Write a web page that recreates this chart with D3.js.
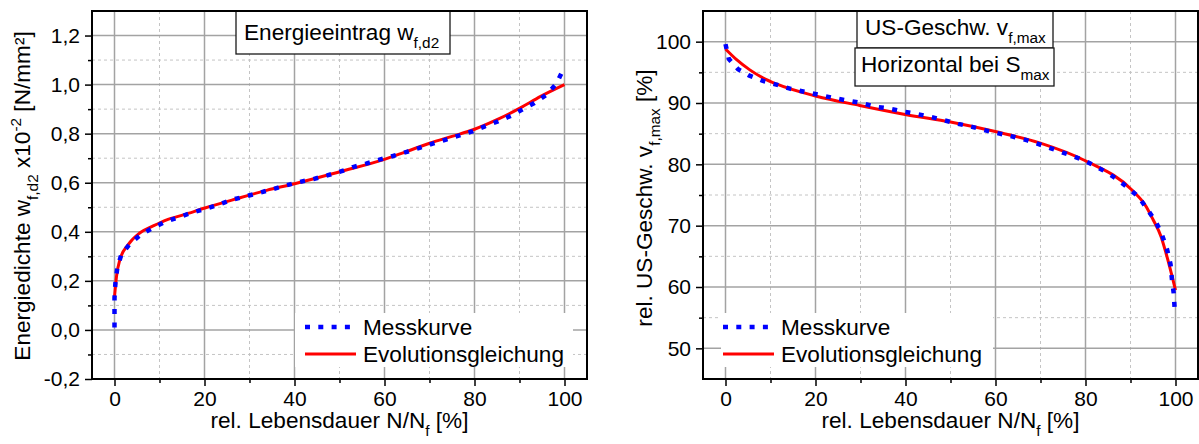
<!DOCTYPE html>
<html><head><meta charset="utf-8">
<script src="https://cdn.jsdelivr.net/npm/d3@7"></script>
<style>
body{margin:0;background:#fff}
svg{display:block}
text{font-family:"Liberation Sans",Arial,sans-serif;fill:#000}
</style>
</head><body>
<svg id="c" width="1199" height="444"></svg>
<script>
// ---------- data ----------
const xMajor = [0, 20, 40, 60, 80, 100];
const xMinor = [10, 30, 50, 70, 90];

const leftYMajor = [-0.2, 0.0, 0.2, 0.4, 0.6, 0.8, 1.0, 1.2];
const leftYMinor = [-0.1, 0.1, 0.3, 0.5, 0.7, 0.9, 1.1];
const rightYMajor = [50, 60, 70, 80, 90, 100];
const rightYMinor = [55, 65, 75, 85, 95];

const legendLabels = ["Messkurve", "Evolutionsgleichung"];

const leftMessX = [0, 0, 0, 0.2, 0.6, 1.5, 3.4, 5.6, 8.4, 11.2, 14.3, 17.4, 20.3, 23.1, 26.2, 29.0, 32.0, 35.2, 38.1, 41.1, 44.2, 47.3, 50.3, 53.0, 55.9, 58.9, 61.9, 64.8, 67.8, 70.7, 73.7, 76.7, 79.5, 82.3, 85.2, 88.1, 90.6, 93.3, 96.0, 98.2, 99.7];
const leftMessY = [0.01, 0.07, 0.13, 0.19, 0.25, 0.306, 0.351, 0.385, 0.415, 0.44, 0.46, 0.479, 0.494, 0.51, 0.531, 0.544, 0.558, 0.574, 0.589, 0.603, 0.615, 0.63, 0.646, 0.664, 0.678, 0.694, 0.709, 0.725, 0.742, 0.759, 0.776, 0.793, 0.809, 0.83, 0.85, 0.873, 0.898, 0.925, 0.959, 1.004, 1.061];

const leftEvoX = [0, 0.44, 1.2, 3.0, 5.6, 8.6, 11.6, 15.3, 20.1, 26.4, 33.8, 39.8, 50.1, 59.8, 65.0, 70.2, 75.0, 80.0, 85.0, 90.2, 94.7, 100];
const leftEvoY = [0.135, 0.218, 0.286, 0.347, 0.395, 0.424, 0.449, 0.469, 0.497, 0.531, 0.569, 0.595, 0.645, 0.694, 0.728, 0.762, 0.789, 0.818, 0.857, 0.905, 0.952, 1.0];

const rightMessX = [0, 0.73, 2.8, 5.2, 8.3, 11.3, 14.5, 17.7, 21.0, 24.1, 27.1, 30.2, 33.2, 36.3, 39.5, 42.6, 45.8, 48.5, 51.7, 54.8, 58.0, 60.9, 64.0, 67.1, 70.4, 73.5, 76.6, 79.6, 82.2, 84.7, 87.0, 89.4, 91.8, 93.6, 95.6, 97.0, 98.1, 98.9, 99.2, 99.6, 99.8];
const rightMessY = [99.6, 97.2, 95.5, 94.5, 93.6, 93.0, 92.3, 91.8, 91.3, 90.8, 90.4, 90.0, 89.4, 89.1, 88.6, 88.2, 87.7, 87.2, 86.6, 86.1, 85.5, 85.0, 84.5, 83.9, 83.1, 82.3, 81.5, 80.7, 79.7, 78.7, 77.6, 76.2, 74.7, 72.8, 70.7, 68.5, 66.2, 63.7, 61.3, 59.0, 56.6];

const rightEvoX = [0, 2.4, 5.4, 8.3, 11.3, 20.2, 29.8, 40.2, 50.0, 60.2, 69.8, 80.2, 90.2, 93.5, 95.0, 96.8, 97.9, 100];
const rightEvoY = [98.8, 97.1, 95.4, 94.1, 93.1, 91.1, 89.6, 88.1, 86.9, 85.3, 83.5, 80.5, 75.9, 73.1, 71.0, 68.2, 65.5, 59.5];

// ---------- drawing ----------
const svg = d3.select('#c');
const FONT = 22.6, TICKFONT = 21;

function rich(sel, parts, size) {
  let cur = 0;
  parts.forEach(p => {
    const target = p.sub ? size * 0.36 : (p.sup ? -size * 0.42 : 0);
    sel.append('tspan')
      .attr('dy', (target - cur).toFixed(2))
      .attr('font-size', (p.sub || p.sup) ? size * 0.68 : size)
      .text(p.t);
    cur = target;
  });
}

function panel(o) {
  const x = d3.scaleLinear().domain([-5, 105]).range([o.left, o.right]);
  const y = d3.scaleLinear().domain(o.yDomain).range([o.bottom, o.top]);
  const g = svg.append('g');

  // grid minor
  const grid = g.append('g');
  grid.selectAll('line.vx').data(xMinor).join('line')
    .attr('x1', d => x(d)).attr('x2', d => x(d)).attr('y1', o.top).attr('y2', o.bottom)
    .attr('stroke', '#c4c4c4').attr('stroke-width', 1).attr('stroke-dasharray', '3,3');
  grid.selectAll('line.hy').data(o.yMinor).join('line')
    .attr('y1', d => y(d)).attr('y2', d => y(d)).attr('x1', o.left).attr('x2', o.right)
    .attr('stroke', '#c4c4c4').attr('stroke-width', 1).attr('stroke-dasharray', '3,3');
  // grid major
  g.append('g').selectAll('line').data(xMajor).join('line')
    .attr('x1', d => x(d)).attr('x2', d => x(d)).attr('y1', o.top).attr('y2', o.bottom)
    .attr('stroke', '#a3a3a3').attr('stroke-width', 1.5);
  g.append('g').selectAll('line').data(o.yMajor).join('line')
    .attr('y1', d => y(d)).attr('y2', d => y(d)).attr('x1', o.left).attr('x2', o.right)
    .attr('stroke', '#a3a3a3').attr('stroke-width', 1.5);

  // curves
  const mess = o.messX.map((v, i) => [v, o.messY[i]]);
  const evo = o.evoX.map((v, i) => [v, o.evoY[i]]);
  g.append('path').datum(evo)
    .attr('d', d3.line().x(d => x(d[0])).y(d => y(d[1])).curve(d3.curveMonotoneX))
    .attr('fill', 'none').attr('stroke', '#ff0000').attr('stroke-width', 3);
  g.append('path').datum(mess)
    .attr('d', d3.line().x(d => x(d[0])).y(d => y(d[1])))
    .attr('fill', 'none').attr('stroke', '#0000ff').attr('stroke-width', 4.5)
    .attr('stroke-dasharray', '5,8.5');

  // legend
  const lg = g.append('g');
  lg.append('rect').attr('x', o.leg.x).attr('y', o.leg.y).attr('width', o.leg.w).attr('height', o.leg.h)
    .attr('fill', '#fff');
  const ly1 = o.leg.y + 14, ly2 = o.leg.y + 41;
  lg.append('line').attr('x1', o.leg.x + o.leg.sx0).attr('x2', o.leg.x + o.leg.sx0 + 51)
    .attr('y1', ly1).attr('y2', ly1).attr('stroke', '#0000ff').attr('stroke-width', 4.5)
    .attr('stroke-dasharray', '5,8.3');
  lg.append('line').attr('x1', o.leg.x + o.leg.sx0).attr('x2', o.leg.x + o.leg.sx0 + 51)
    .attr('y1', ly2).attr('y2', ly2).attr('stroke', '#ff0000').attr('stroke-width', 3);
  lg.append('text').attr('x', o.leg.x + o.leg.sx0 + 58).attr('y', ly1 + 7.5)
    .attr('font-size', FONT).text(legendLabels[0]);
  lg.append('text').attr('x', o.leg.x + o.leg.sx0 + 58).attr('y', ly2 + 7.5)
    .attr('font-size', FONT).text(legendLabels[1]);

  // title boxes
  o.boxes.forEach(b => {
    g.append('rect').attr('x', b.x).attr('y', b.y).attr('width', b.w).attr('height', b.h)
      .attr('fill', '#fff').attr('stroke', '#1a1a1a').attr('stroke-width', 1.3);
    const t = g.append('text').attr('x', b.tx).attr('y', b.ty);
    rich(t, b.parts, FONT);
  });

  // axes
  const fmt = o.fmt;
  const ax = g.append('g').attr('transform', `translate(${o.left},0)`)
    .call(d3.axisLeft(y).tickValues(o.yMajor).tickSize(7).tickPadding(5).tickFormat(fmt));
  ax.select('.domain').remove();
  ax.selectAll('text').attr('font-size', TICKFONT).attr('font-family', '"Liberation Sans",Arial,sans-serif');
  ax.selectAll('line').attr('stroke', '#000').attr('stroke-width', 1.5);
  const axm = g.append('g').attr('transform', `translate(${o.left},0)`)
    .call(d3.axisLeft(y).tickValues(o.yMinor).tickSize(4).tickFormat(''));
  axm.select('.domain').remove();
  axm.selectAll('line').attr('stroke', '#000').attr('stroke-width', 1.5);

  const bx = g.append('g').attr('transform', `translate(0,${o.bottom})`)
    .call(d3.axisBottom(x).tickValues(xMajor).tickSize(7).tickPadding(5).tickFormat(d3.format('d')));
  bx.select('.domain').remove();
  bx.selectAll('text').attr('font-size', TICKFONT).attr('font-family', '"Liberation Sans",Arial,sans-serif');
  bx.selectAll('line').attr('stroke', '#000').attr('stroke-width', 1.5);
  const bxm = g.append('g').attr('transform', `translate(0,${o.bottom})`)
    .call(d3.axisBottom(x).tickValues(xMinor).tickSize(4).tickFormat(''));
  bxm.select('.domain').remove();
  bxm.selectAll('line').attr('stroke', '#000').attr('stroke-width', 1.5);

  // frame
  g.append('rect').attr('x', o.left).attr('y', o.top).attr('width', o.right - o.left).attr('height', o.bottom - o.top)
    .attr('fill', 'none').attr('stroke', '#000').attr('stroke-width', 2);

  // axis titles
  const xt = g.append('text').attr('x', (o.left + o.right) / 2).attr('y', 428).attr('text-anchor', 'middle');
  rich(xt, [{t: 'rel. Lebensdauer N/N'}, {t: 'f', sub: true}, {t: ' [%]'}], FONT);
  const yt = g.append('text').attr('text-anchor', 'middle')
    .attr('transform', `translate(${o.ytx},${o.yty}) rotate(-90)`);
  rich(yt, o.yTitle, FONT);
}

panel({
  left: 92, right: 587, top: 11, bottom: 379,
  yDomain: [-0.2, 1.3], yMajor: leftYMajor, yMinor: leftYMinor,
  fmt: d => d.toFixed(1).replace('.', ','),
  messX: leftMessX, messY: leftMessY, evoX: leftEvoX, evoY: leftEvoY,
  leg: {x: 295, y: 313, w: 278, h: 54, sx0: 10},
  boxes: [{x: 236, y: 11, w: 214, h: 43, tx: 244, ty: 40,
    parts: [{t: 'Energieeintrag w'}, {t: 'f,d2', sub: true}]}],
  ytx: 30, yty: 196,
  yTitle: [{t: 'Energiedichte w'}, {t: 'f,d2', sub: true}, {t: ' x10'}, {t: '-2', sup: true}, {t: ' [N/mm²]'}]
});

panel({
  left: 703, right: 1198, top: 11, bottom: 379,
  yDomain: [45, 105], yMajor: rightYMajor, yMinor: rightYMinor,
  fmt: d3.format('d'),
  messX: rightMessX, messY: rightMessY, evoX: rightEvoX, evoY: rightEvoY,
  leg: {x: 721, y: 313, w: 272, h: 54, sx0: 2},
  boxes: [
    {x: 857, y: 11, w: 196, h: 37, tx: 865, ty: 35, parts: [{t: 'US-Geschw. v'}, {t: 'f,max', sub: true}]},
    {x: 855, y: 48, w: 199, h: 38, tx: 861, ty: 72, parts: [{t: 'Horizontal bei S'}, {t: 'max', sub: true}]}
  ],
  ytx: 652, yty: 198,
  yTitle: [{t: 'rel. US-Geschw. v'}, {t: 'f,max', sub: true}, {t: ' [%]'}]
});
</script>
</body></html>
